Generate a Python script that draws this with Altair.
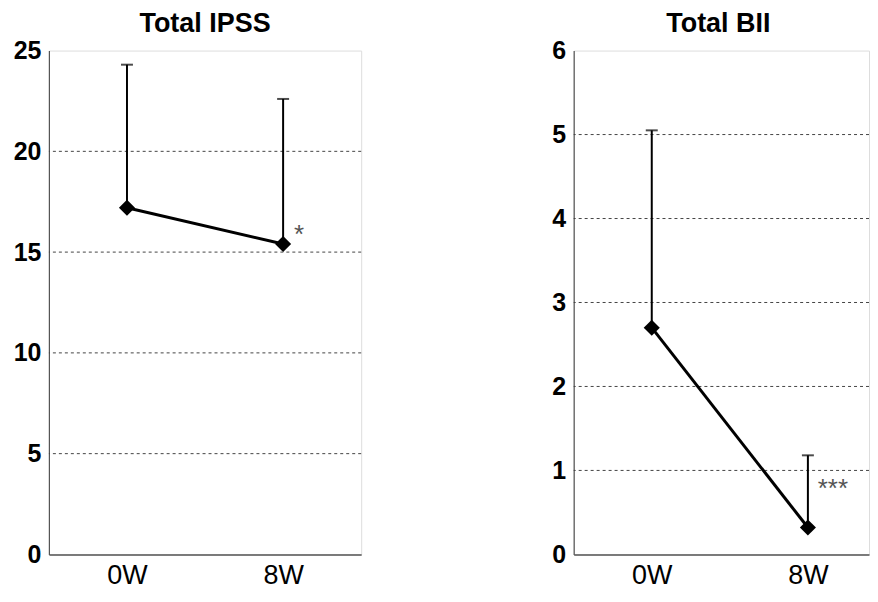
import altair as alt
import pandas as pd

# ---- data ----
time_labels = ["0W", "8W"]
time_pos = [1, 3]

ipss_mean = [17.2, 15.4]
ipss_upper = [24.3, 22.6]
ipss_ticks = [0, 5, 10, 15, 20, 25]
ipss_grid = [5, 10, 15, 20]
ipss_sig = "*"
ipss_sig_y = 16.2

bii_mean = [2.7, 0.32]
bii_upper = [5.05, 1.18]
bii_ticks = [0, 1, 2, 3, 4, 5, 6]
bii_grid = [1, 2, 3, 4, 5]
bii_sig = "***"
bii_sig_y = 0.86

FONT = "Liberation Sans"
label_expr = " : ".join(
    [f"datum.value == {p} ? '{l}'" for p, l in zip(time_pos, time_labels)] + ["''"]
)


def panel(title, mean, upper, ticks, grid, sig, sig_y, width, xmax, title_dx, sig_dx):
    df = pd.DataFrame({"pos": time_pos, "label": time_labels, "mean": mean, "upper": upper})
    gdf = pd.DataFrame({"g": grid})
    sdf = pd.DataFrame({"pos": [time_pos[1]], "y": [sig_y], "t": [sig]})
    ydom = [ticks[0], ticks[-1]]

    x = alt.X(
        "pos:Q",
        scale=alt.Scale(domain=[0, xmax], nice=False, zero=False),
        axis=alt.Axis(
            values=time_pos, labelExpr=label_expr, title=None, ticks=False, grid=False,
            labelFont=FONT, labelFontSize=27, labelColor="black", labelPadding=8,
            domainColor="#555", domainWidth=1.5, labelFlush=False,
        ),
    )
    yaxis = alt.Axis(
        values=ticks, title=None, ticks=False, grid=False, labelFont=FONT,
        labelFontSize=25, labelFontWeight="bold", labelColor="black", labelPadding=8,
        domainColor="#555", domainWidth=1.2, minExtent=40, maxExtent=40,
    )
    yscale = alt.Scale(domain=ydom, nice=False)

    gridl = alt.Chart(gdf).mark_rule(color="#444", strokeDash=[3, 3], strokeWidth=1).encode(
        y=alt.Y("g:Q", scale=yscale, axis=yaxis)
    )
    err = alt.Chart(df).mark_rule(color="black", strokeWidth=2).encode(
        x=x, y=alt.Y("mean:Q", scale=yscale, axis=yaxis), y2="upper:Q"
    )
    cap = alt.Chart(df).mark_tick(color="black", orient="horizontal", size=12, thickness=2).encode(
        x=x, y=alt.Y("upper:Q", scale=yscale, axis=yaxis)
    )
    line = alt.Chart(df).mark_line(color="black", strokeWidth=3).encode(
        x=x, y=alt.Y("mean:Q", scale=yscale, axis=yaxis)
    )
    pts = alt.Chart(df).mark_point(shape="diamond", filled=True, color="black", size=260, opacity=1).encode(
        x=x, y=alt.Y("mean:Q", scale=yscale, axis=yaxis)
    )
    txt = alt.Chart(sdf).mark_text(
        font=FONT, fontSize=26, color="#555", dx=sig_dx, dy=15, align="center", baseline="alphabetic"
    ).encode(x=x, y=alt.Y("y:Q", scale=yscale, axis=yaxis), text="t:N")

    return alt.layer(gridl, err, line, cap, pts, txt).properties(
        width=width,
        height=505,
        title=alt.TitleParams(
            text=title, font=FONT, fontSize=27, fontWeight="bold", color="black",
            anchor="middle", offset=1, dx=title_dx,
        ),
    )


left = panel("Total IPSS", ipss_mean, ipss_upper, ipss_ticks, ipss_grid, ipss_sig, ipss_sig_y,
             313, 4, 0, 16)
right = panel("Total BII", bii_mean, bii_upper, bii_ticks, bii_grid, bii_sig, bii_sig_y,
              296, 4 * 296 / 313, -3, 25)

chart = alt.hconcat(left, right, spacing=171).properties(padding=0).configure_view(
    stroke="#999", strokeWidth=1.5
).configure(background="white")

chart.save("out.html", embed_options={"renderer": "svg", "actions": False})
